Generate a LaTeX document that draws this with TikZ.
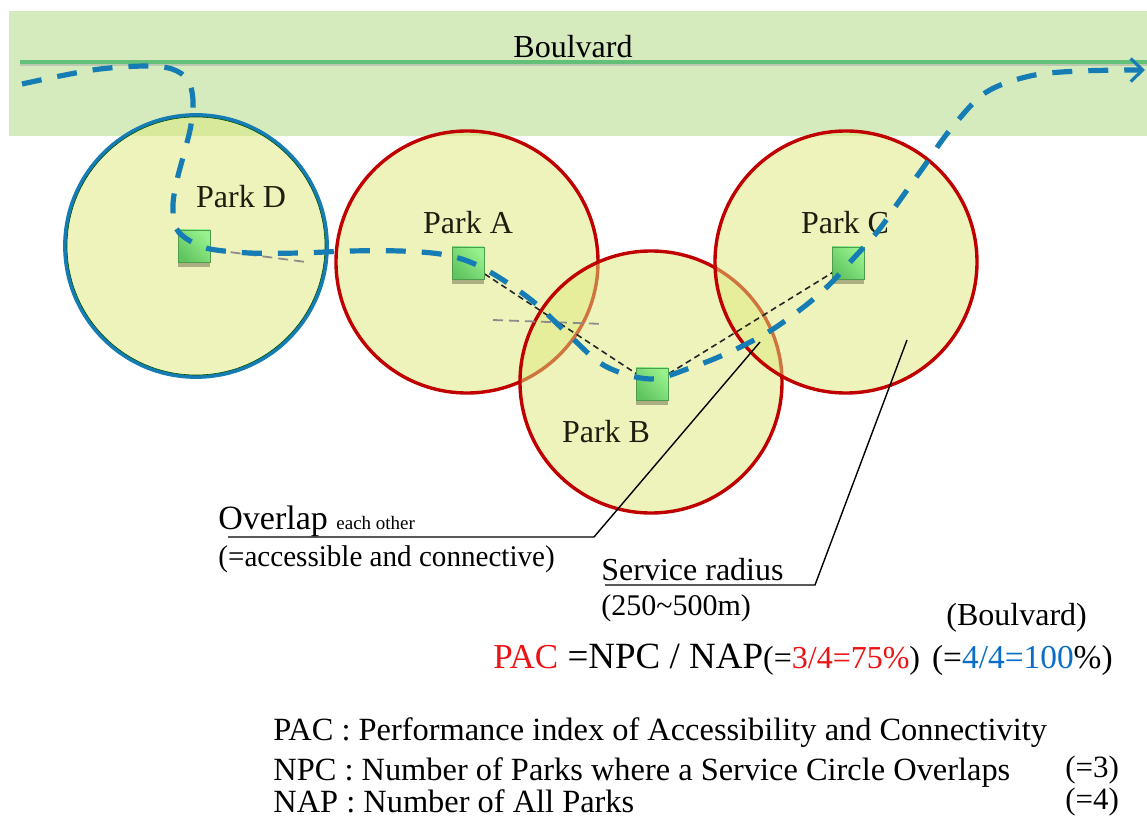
\documentclass[tikz,border=0pt]{standalone}
\usepackage{fontspec}
\setmainfont{Liberation Serif}
\usetikzlibrary{arrows.meta,shadows}

\definecolor{bandgreen}{RGB}{213,235,190}
\definecolor{roadgreen}{RGB}{98,192,120}
\definecolor{routeblue}{RGB}{22,125,180}
\definecolor{ringred}{RGB}{192,0,0}
\definecolor{zonefill}{RGB}{222,232,122}
\definecolor{parklight}{RGB}{152,242,140}
\definecolor{parkdark}{RGB}{96,196,96}
\definecolor{labelink}{RGB}{30,30,15}
\definecolor{formred}{RGB}{235,20,20}
\definecolor{formblue}{RGB}{10,110,200}
\definecolor{shadowink}{RGB}{70,70,40}

\newcommand{\fs}[1]{\fontsize{#1}{#1}\selectfont}

\begin{document}
\begin{tikzpicture}[x=0.5pt,y=-0.5pt,
  zone/.style={circle, inner sep=0pt, minimum size=131pt,
    fill=zonefill, fill opacity=0.5, draw=ringred, line width=1.7pt},
  park/.style={rectangle, inner sep=0pt, minimum size=16pt,
    draw=parkdark!80!black, line width=0.3pt,
    top color=parklight, bottom color=parkdark, shading angle=-45,
    drop shadow={shadow xshift=0pt, shadow yshift=-2.5pt, opacity=0.4,
      fill=shadowink}},
  parklabel/.style={text=labelink, font=\fs{16}, inner sep=0pt},
  link/.style={black!85, line width=0.8pt, dash pattern=on 3pt off 2pt},
  guide/.style={black!45, line width=0.9pt, dash pattern=on 5pt off 3pt},
  route/.style={routeblue, line width=2.6pt, dash pattern=on 10pt off 8pt},
  leader/.style={black, line width=0.7pt},
  txt/.style={anchor=base west, inner sep=0pt}]

\useasboundingbox (0,0) rectangle (1147,818);

% boulevard strip and its centre line
\fill[bandgreen] (9,11) rectangle (1147,136);
\coordinate (roadW) at (20,62);
\coordinate (roadE) at (1147,62);
\draw[black!35, opacity=0.5, line width=1.6pt] ([yshift=-1pt]roadW) -- ([yshift=-1pt]roadE);
\draw[roadgreen, line width=1.6pt] (roadW) -- (roadE);
\node[text=black, font=\fs{16}, inner sep=0pt] (blvd) at (573,47) {Boulvard};

% service circles
\node[zone, draw=routeblue, line width=1.9pt] (zoneD) at (196,246) {};
\draw[green!30!black, line width=0.3pt] (196,246) circle[radius=129];
\node[zone] (zoneA) at (467,262) {};
\node[zone] (zoneB) at (651,382) {};
\node[zone] (zoneC) at (846,262) {};

% grey guide dashes
\coordinate (gD1) at (183,246);
\coordinate (gD2) at (306,262);
\coordinate (gA1) at (493,320);
\coordinate (gA2) at (604,324);
\draw[guide] (gD1) -- (gD2);
\draw[guide] (gA1) -- (gA2);

% park positions
\coordinate (pD) at (194,246);
\coordinate (pA) at (468,263);
\coordinate (pB) at (652,384);
\coordinate (pC) at (848,263);

% straight links between overlapping parks
\draw[link] (pA) -- (pB) -- (pC);

% park markers
\node[park] (parkD) at (pD) {};
\node[park] (parkA) at (pA) {};
\node[park] (parkB) at (pB) {};
\node[park] (parkC) at (pC) {};

\node[parklabel] (labD) at (241,197) {Park D};
\node[parklabel] (labA) at (468,223) {Park A};
\node[parklabel] (labB) at (606,432) {Park B};
\node[parklabel] (labC) at (845,223) {Park C};

% boulevard route through the parks
\coordinate (routeS) at (22,84);
\coordinate (routeE) at (1145,70);
\draw[route, -{Straight Barb[length=6pt, width=11.5pt, line width=1.6pt]}]
  plot[smooth, tension=0.55] coordinates {
    (routeS) (60,76) (100,69) (145,66) (172,69) (188,80) (193,100)
    (191,125) (185,150) (177,180) (173,205) (176,228) (190,241)
    (210,249) (250,253) (300,253) (350,251) (400,251) (440,254)
    (470,262) (500,278) (535,303) (570,336) (605,366) (650,379)
    (690,368) (730,352) (770,331) (805,306) (830,284) (852,260)
    (878,231) (900,200) (925,165) (950,130) (985,93) (1030,76)
    (1080,71) (routeE)};

% callouts
\coordinate (ovTip) at (760,342);
\coordinate (ovBend) at (594,537);
\coordinate (ovEnd) at (228,537);
\draw[leader] (ovEnd) -- (ovBend) -- (ovTip);
\node[txt, font=\fs{17}] (overlap) at (218,530) {Overlap \fs{9.5}each other};
\node[txt, font=\fs{15}] (access) at (218,567)
  {\scalebox{0.97}[1]{(=accessible and connective)}};

\coordinate (srTip) at (907,340);
\coordinate (srBend) at (815,585);
\coordinate (srEnd) at (605,585);
\draw[leader] (srEnd) -- (srBend) -- (srTip);
\node[txt, font=\fs{16}] (radius) at (601,580) {Service radius};
\node[txt, font=\fs{15}] (range) at (601,615) {(250\textasciitilde500m)};

\node[txt, font=\fs{16}] (blvdnote) at (946,625) {(Boulvard)};

% formula
\node[txt, font=\fs{18.5}] (formula) at (493,668)
  {{\fs{17.5}\color{formred}PAC} =NPC / NAP{\fs{16}(={\color{formred}3/4=75\%})}%
   \hspace{6pt}{\fs{16.7}(={\color{formblue}4/4=100}\%)}};

% definitions
\node[txt, font=\fs{16.2}] (defPAC) at (273,740)
  {PAC : Performance index of Accessibility and Connectivity};
\node[txt, font=\fs{16.2}] (defNPC) at (273,780)
  {NPC : Number of Parks where a Service Circle Overlaps};
\node[txt, font=\fs{16.2}] (defNAP) at (273,812)
  {NAP : Number of All Parks};
\node[txt, font=\fs{15.5}] (valNPC) at (1065,777) {(=3)};
\node[txt, font=\fs{15.5}] (valNAP) at (1065,809) {(=4)};
\end{tikzpicture}
\end{document}
